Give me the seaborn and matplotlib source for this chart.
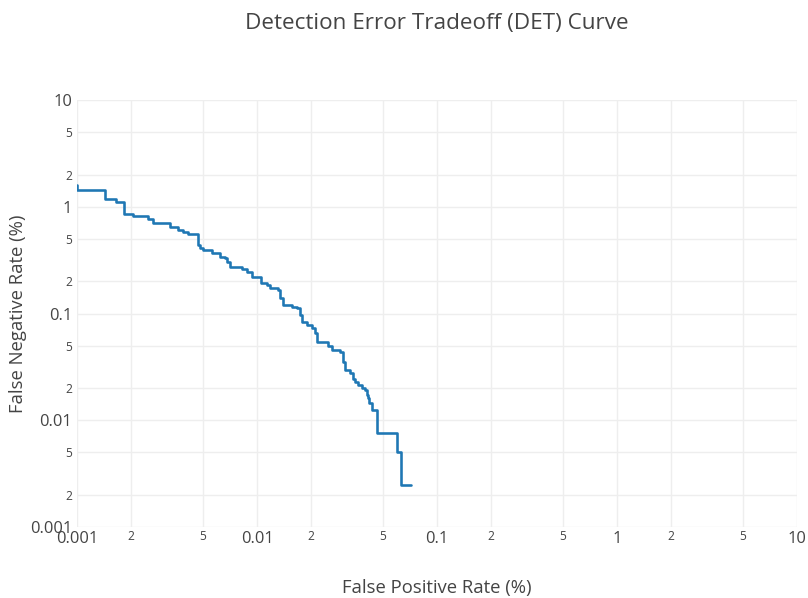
import matplotlib
matplotlib.use("Agg")
import matplotlib.pyplot as plt
import seaborn as sns
import pandas as pd

# Step-curve vertices (percent)
fpr = [0.001000, 0.001000, 0.001431, 0.001641, 0.001824, 0.002047, 0.002489,
       0.002655, 0.003286, 0.003625, 0.003900, 0.004153, 0.004684, 0.004850,
       0.005031, 0.005601, 0.006229, 0.006641, 0.006850, 0.007079, 0.008222,
       0.008766, 0.009346, 0.01050, 0.01132, 0.01181, 0.01313, 0.01340,
       0.01400, 0.01559, 0.01662, 0.01734, 0.01772, 0.01889, 0.02014,
       0.02100, 0.02146, 0.02490, 0.02600, 0.02892, 0.03016, 0.03083,
       0.03286, 0.03428, 0.03503, 0.03655, 0.03817, 0.03981, 0.04068,
       0.04153, 0.04200, 0.04338, 0.04671, 0.05973, 0.06310, 0.07172]
fnr = [1.597, 1.434, 1.173, 1.099, 0.849, 0.818, 0.762,
       0.699, 0.641, 0.605, 0.585, 0.558, 0.438, 0.407,
       0.393, 0.366, 0.340, 0.328, 0.305, 0.274, 0.261,
       0.246, 0.221, 0.195, 0.1846, 0.1718, 0.1657, 0.1385,
       0.1199, 0.1156, 0.1116, 0.0966, 0.0836, 0.0778, 0.0725,
       0.0651, 0.0543, 0.0500, 0.0454, 0.0438, 0.0353, 0.0295,
       0.0275, 0.0246, 0.0229, 0.0213, 0.0199, 0.0191, 0.0172,
       0.0160, 0.0144, 0.0124, 0.00752, 0.00506, 0.00246, 0.00246]

major_ticks = [0.001, 0.01, 0.1, 1, 10]
major_labels = ["0.001", "0.01", "0.1", "1", "10"]
minor_ticks = [0.002, 0.005, 0.02, 0.05, 0.2, 0.5, 2, 5]
minor_labels = ["2", "5", "2", "5", "2", "5", "2", "5"]

title = "Detection Error Tradeoff (DET) Curve"
xlabel = "False Positive Rate (%)"
ylabel = "False Negative Rate (%)"

sns.set_theme(style="white")
plt.rcParams["font.family"] = ["Open Sans", "DejaVu Sans"]

TXT = "#444444"
GRID = "#eeeeee"
PX = 0.72  # points per pixel at dpi 100

fig = plt.figure(figsize=(8.08, 5.98), dpi=100)
ax = fig.add_axes([77 / 808, 1 - 527 / 598, 720 / 808, 427 / 598])

df = pd.DataFrame({"fpr": fpr, "fnr": fnr})
sns.lineplot(data=df, x="fpr", y="fnr", ax=ax, sort=False, estimator=None,
             drawstyle="steps-post", color="#1f77b4", linewidth=2.6 * PX)

ax.set_xscale("log")
ax.set_yscale("log")
ax.set_xlim(0.001, 10)
ax.set_ylim(0.001, 10)

for setter in (ax.set_xticks, ax.set_yticks):
    setter(major_ticks, major_labels)
    setter(minor_ticks, minor_labels, minor=True)

ax.tick_params(which="major", length=0, labelsize=16.5 * PX, colors=TXT)
ax.tick_params(which="minor", length=0, labelsize=12 * PX, colors=TXT)
ax.tick_params(axis="x", which="major", pad=4 * PX)
ax.tick_params(axis="x", which="minor", pad=3 * PX)
ax.tick_params(axis="y", which="both", pad=5 * PX)

for v in major_ticks + minor_ticks:
    ax.axvline(v, color=GRID, lw=1.4 * PX, zorder=0)
    ax.axhline(v, color=GRID, lw=1.4 * PX, zorder=0)

for s in ax.spines.values():
    s.set_visible(False)

ax.set_xlabel(xlabel, fontsize=18.5 * PX, color=TXT)
ax.set_ylabel(ylabel, fontsize=18.5 * PX, color=TXT)
ax.xaxis.label.set_va("center")
ax.yaxis.label.set_va("center")
ax.xaxis.set_label_coords(0.5, (527 - 588) / 427)
ax.yaxis.set_label_coords((18 - 77) / 720, 0.5)

fig.text(437 / 808, 1 - 24 / 598, title, ha="center", va="center",
         fontsize=22.5 * PX, color=TXT)

fig.savefig("out.png", dpi=100, facecolor="white")
